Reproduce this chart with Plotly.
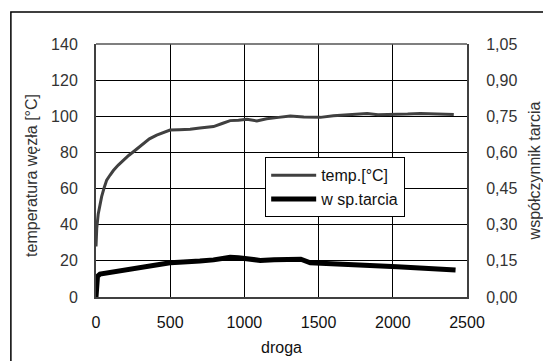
import plotly.graph_objects as go

# --- data ---
droga_temp = [0, 5, 15, 25, 38, 55, 72, 95, 117, 150, 184, 220, 252, 285, 319, 360, 409, 450, 499,
              560, 634, 700, 792, 850, 904, 960, 1017, 1084, 1150, 1230, 1309, 1400, 1512, 1600,
              1692, 1760, 1827, 1900, 2006, 2100, 2186, 2300, 2411]
temp = [28, 38, 46, 51, 55.5, 60.5, 64.7, 67.5, 70, 73, 75.8, 78.3, 80.4, 82.5, 85, 87.5, 89.6, 91, 92.4,
        92.6, 92.8, 93.5, 94.3, 96, 97.6, 97.8, 98.3, 97.4, 98.6, 99.4, 100.2, 99.6, 99.4, 100.3,
        100.7, 100.9, 101.6, 100.9, 101.0, 101.2, 101.6, 101.1, 101.0]

droga_mu = [0, 2, 5, 10, 27, 80, 130, 184, 260, 342, 420, 499, 560, 634, 700, 792, 850, 904, 960, 1017,
            1107, 1200, 1309, 1380, 1444, 1550, 1692, 1780, 1872, 2029, 2150, 2276, 2423]
mu = [0.0, 0.06, 0.08, 0.086, 0.095, 0.1, 0.104, 0.109, 0.119, 0.129, 0.136, 0.142, 0.144, 0.145, 0.149,
      0.154, 0.16, 0.165, 0.163, 0.16, 0.152, 0.155, 0.157, 0.157, 0.142, 0.14, 0.137, 0.133, 0.129, 0.126,
      0.121, 0.115, 0.112]

x_ticks = [0, 500, 1000, 1500, 2000, 2500]
y1_ticks = [0, 20, 40, 60, 80, 100, 120, 140]
y2_ticks = [0.0, 0.15, 0.30, 0.45, 0.60, 0.75, 0.90, 1.05]
y2_labels = ["0,00", "0,15", "0,30", "0,45", "0,60", "0,75", "0,90", "1,05"]

FONT = "Liberation Sans, Arial, sans-serif"
TXT = "#333333"

fig = go.Figure()
fig.add_trace(go.Scatter(x=droga_temp, y=temp, mode="lines", name="temp.[°C]",
                         line=dict(color="#404040", width=3)))
fig.add_trace(go.Scatter(x=droga_mu, y=mu, mode="lines", name="w sp.tarcia", yaxis="y2",
                         line=dict(color="#000000", width=5)))

fig.update_layout(
    width=543, height=361,
    margin=dict(l=96, r=76, t=44, b=64, pad=0),
    paper_bgcolor="white", plot_bgcolor="white",
    font=dict(family=FONT, size=16, color=TXT),
    showlegend=True,
    legend=dict(x=0.456, y=0.552, xanchor="left", yanchor="top",
                bordercolor="#000000", borderwidth=1, bgcolor="white",
                font=dict(family=FONT, size=16, color="#111111"),
                tracegroupgap=2, itemwidth=45),
    xaxis=dict(range=[0, 2500], tickvals=x_ticks, ticktext=[str(v) for v in x_ticks],
               showgrid=True, gridcolor="#000000", gridwidth=1, automargin=False,
               showline=True, linecolor="#404040", linewidth=2, mirror=False,
               zeroline=False, ticks="", ticklabelstandoff=10,
               title=dict(text="droga", font=dict(size=16, color="#111111"), standoff=12),
               tickfont=dict(size=16, color="#111111")),
    yaxis=dict(range=[0, 140], tickvals=y1_ticks, ticktext=[str(v) for v in y1_ticks],
               showgrid=True, gridcolor="#000000", gridwidth=1, automargin=False,
               showline=True, linecolor="#404040", linewidth=2,
               zeroline=False, ticks="", ticklabelstandoff=13,
               tickfont=dict(size=16, color="#333333")),
    yaxis2=dict(range=[0, 1.05], tickvals=y2_ticks, ticktext=y2_labels, overlaying="y", side="right",
                showgrid=False, showline=True, linecolor="#404040", linewidth=2, automargin=False,
                zeroline=False, ticks="", ticklabelstandoff=14,
                title=dict(text="współczynnik tarcia", font=dict(size=16, color="#333333"), standoff=17),
                tickfont=dict(size=16, color="#333333")),
)

# left axis title
fig.add_annotation(text="temperatura węzła [°C]", xref="paper", yref="paper",
                   x=(31 - 96) / 370.5, y=(297 - 175) / 253, xanchor="center", yanchor="middle",
                   textangle=-90, showarrow=False, font=dict(size=16, color="#333333", family=FONT))

# top edge of plot area
fig.add_shape(type="line", xref="paper", yref="paper", x0=0, x1=1, y0=1, y1=1,
              line=dict(color="#555555", width=1.5))
# outer chart frame (extends past the bottom/right of the window)
fig.add_shape(type="rect", xref="paper", yref="paper",
              x0=(11 - 96) / 370.5, x1=(600 - 96) / 370.5,
              y0=(297 - 400) / 253, y1=(297 - 12) / 253,
              line=dict(color="#000000", width=1.5), fillcolor="rgba(0,0,0,0)", layer="below")

fig.write_html("out.html", config={"displayModeBar": False},
               post_script="document.body.style.margin='0';document.body.style.overflow='hidden';")
